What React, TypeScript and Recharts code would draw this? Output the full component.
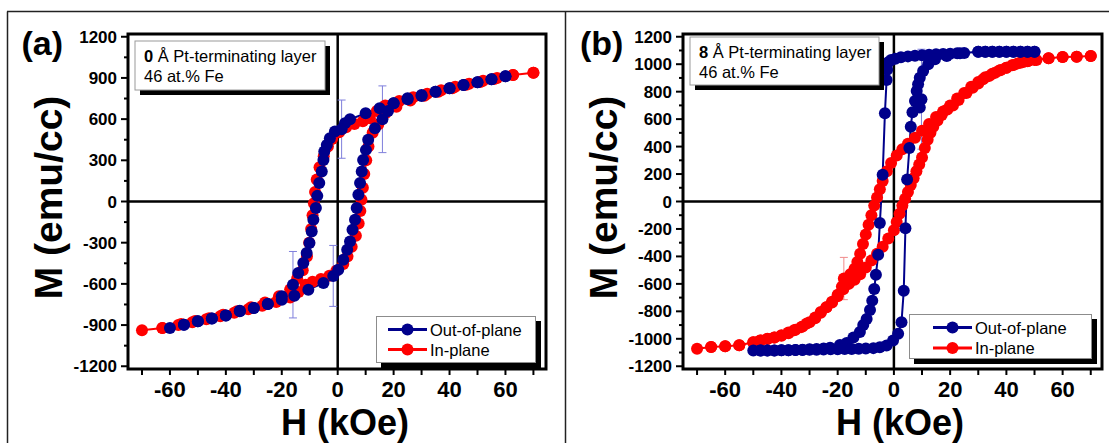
import React from 'react';
import { LineChart, Line, XAxis, YAxis, ReferenceLine, ReferenceArea, ErrorBar, Legend } from 'recharts';

type Pt = [number, number, number?];

// (a) 0 Å Pt-terminating layer, loop goes down from +H and back up; third value = error bar half-height
const outOfPlaneA: Pt[] = [
  [60, 913], [55, 890], [50, 868], [45, 849], [40, 825], [35, 800], [30, 769], [25, 745], [20, 716], [15, 679],
  [10, 643], [4.4, 599], [2.6, 570], [1.4, 527, 212], [-1, 509], [-2.8, 461], [-3.9, 412], [-4.8, 364], [-5.1, 303],
  [-5.7, 218], [-6.6, 134], [-7.3, 41], [-7.8, -48], [-8.7, -133], [-9.3, -218], [-10.1, -303], [-11.1, -375],
  [-12.3, -448], [-14.1, -521], [-16, -606, 242], [-20, -690], [-25, -746], [-30, -775], [-35, -795], [-40, -831],
  [-45, -853], [-50, -873], [-55, -897], [-60, -921],
  [-55, -897], [-50, -873], [-45, -853], [-40, -831], [-35, -800], [-30, -775], [-25, -746], [-20, -715],
  [-15.5, -686], [-10.5, -642], [-5.1, -594], [-1.6, -542, 222], [0.2, -497], [2, -424], [3.4, -351], [4.4, -291],
  [5.3, -206], [6.2, -133], [6.8, -48], [7.4, 49], [8, 134], [8.6, 218], [9.1, 303], [10.1, 376], [10.9, 449],
  [13.3, 534], [16, 599, 243], [18, 660], [20, 716], [25, 752], [30, 775], [35, 800], [40, 825], [45, 849],
  [50, 868], [55, 890], [60, 913],
];

const inPlaneA: Pt[] = [
  [70, 938], [62.7, 921], [57, 900], [52, 880], [47, 858], [42, 835], [37, 810], [32, 785], [27, 760], [22, 732],
  [17, 700], [14, 660], [11.5, 606], [9, 585], [6, 565], [3, 540], [0.5, 505], [-2, 455], [-3.5, 400], [-5, 330],
  [-6.5, 250], [-7.5, 160], [-8.1, 70], [-8.5, -12], [-9, -100], [-9.5, -200], [-10.2, -300], [-11, -400],
  [-12.5, -500], [-14.5, -560], [-17, -640], [-21, -690], [-26, -735], [-31, -770], [-36, -800], [-41, -825],
  [-46, -850], [-51, -870], [-56, -893], [-62.7, -921], [-70, -938],
  [-62.7, -921], [-57, -900], [-52, -880], [-47, -858], [-42, -835], [-37, -810], [-32, -785], [-27, -760],
  [-22, -732], [-17, -700], [-14, -660], [-11.5, -606], [-9, -585], [-6, -565], [-3, -540], [-0.5, -505], [2, -455],
  [3.5, -400], [5, -330], [6.5, -250], [7.5, -160], [8.1, -70], [8.5, 12], [9, 100], [9.5, 200], [10.2, 300],
  [11, 400], [12.5, 500], [14.5, 560], [17, 640], [21, 690], [26, 735], [31, 770], [36, 800], [41, 825], [46, 850],
  [51, 870], [56, 893], [62.7, 921], [70, 938],
];

// (b) 8 Å Pt-terminating layer
const outOfPlaneB: Pt[] = [
  [50, 1091], [47.5, 1091], [45, 1091], [42.5, 1091], [40, 1091], [37.5, 1091], [35, 1091], [32.5, 1091], [30, 1090],
  [25, 1082], [22.5, 1080], [20, 1077], [17.5, 1075], [15, 1072], [12.5, 1069], [10, 1066], [7.5, 1062], [5, 1057],
  [2.5, 1050], [0.5, 1040], [-1, 1030], [-2, 1015], [-2.4, 960], [-2.6, 885], [-3.2, 643], [-4, 194], [-5, -157],
  [-5.6, -388], [-6.4, -533], [-7, -637], [-7.7, -722], [-8.5, -790], [-9.7, -855], [-10.9, -900], [-12.1, -950],
  [-14.4, -990], [-16.8, -1030], [-19.2, -1045], [-22.7, -1065], [-25, -1070], [-27.5, -1074], [-30, -1077],
  [-32.5, -1079], [-35, -1081], [-37.5, -1083], [-40, -1084], [-42.5, -1085], [-45, -1086], [-47.5, -1086], [-50, -1086],
  [-47.5, -1086], [-45, -1085], [-42.5, -1085], [-40, -1084], [-37.5, -1083], [-35, -1082], [-32.5, -1081],
  [-30, -1080], [-27.5, -1079], [-25, -1078], [-22.5, -1077], [-20, -1076], [-17.5, -1075], [-15, -1074],
  [-12.5, -1073], [-10, -1071], [-7.3, -1068], [-5, -1062], [-2.6, -1049], [-0.3, -1013], [1.5, -964], [2.7, -880],
  [3.5, -650], [4.1, -195], [4.7, 160], [5.5, 390], [6, 545], [6.6, 650], [7.5, 732], [9.2, 684], [9.8, 745, 364],
  [8.1, 805], [8.6, 854], [9.2, 902], [10.4, 951], [12.2, 999], [14.6, 1036], [18.8, 1060], [23.5, 1079],
  [30, 1090], [32.5, 1091], [35, 1091], [37.5, 1091], [40, 1091], [42.5, 1091], [45, 1091], [47.5, 1091], [50, 1091],
];

const inPlaneB: Pt[] = [
  [70, 1060], [65, 1055], [60, 1052], [55, 1043], [50, 1030], [47.5, 1022], [45, 1010], [42.5, 995], [40, 975],
  [37.5, 955], [35, 930], [32.5, 905], [30, 870], [27.5, 835], [25, 790], [22.5, 750], [20, 700], [17.5, 655],
  [15, 615], [12.5, 565], [10, 515], [7.5, 465], [5, 420], [3, 380], [1, 335], [-1, 280], [-2.5, 220], [-4, 150],
  [-5, 90], [-6, 30], [-7, -30], [-8, -100], [-9, -170], [-10, -240], [-11, -310], [-12, -380], [-13, -440],
  [-14, -490], [-15.5, -530], [-17.8, -561, 154], [-18.5, -620], [-20, -680], [-22, -730], [-24, -770], [-26, -805],
  [-28, -845], [-30, -880], [-32.5, -910], [-35, -935], [-37.5, -955], [-40, -975], [-42.5, -990], [-45, -1000],
  [-47.5, -1012], [-50, -1025], [-55, -1047], [-60, -1054], [-65, -1059], [-70, -1073],
  [-65, -1059], [-60, -1054], [-55, -1047], [-50, -1025], [-47.5, -1013], [-45, -1001], [-42.5, -990], [-40, -977],
  [-37.5, -960], [-35.5, -938], [-33, -915], [-31, -889], [-28, -850], [-26, -810], [-24, -770], [-22, -735],
  [-20, -690], [-18, -640], [-16, -600], [-14, -570], [-12, -530], [-10, -480], [-8, -430], [-6, -380], [-4, -330],
  [-2, -270], [0, -210], [1, -150], [2, -90], [3, -30], [4, 20], [5, 70], [6, 120], [7, 170], [8, 220], [9, 270],
  [10, 320], [11, 390], [12, 450], [13, 500], [14, 545], [15.5, 590], [17, 630], [19, 670], [21, 700], [23, 740],
  [25.8, 790], [28, 829], [30, 860], [31.7, 890], [34, 915], [36, 938], [38, 958], [40, 975], [42, 992], [44, 1006],
  [46, 1016], [47.7, 1023], [50.7, 1031], [55, 1043], [60, 1052], [65, 1055], [70, 1060],
];

const hTicks = [-70, -60, -50, -40, -30, -20, -10, 0, 10, 20, 30, 40, 50, 60, 70];
const mTicksA = [-1200, -1050, -900, -750, -600, -450, -300, -150, 0, 150, 300, 450, 600, 750, 900, 1050, 1200];
const mTicksB = [-1200, -1100, -1000, -900, -800, -700, -600, -500, -400, -300, -200, -100, 0,
  100, 200, 300, 400, 500, 600, 700, 800, 900, 1000, 1100, 1200];

const seriesNames = ['Out-of-plane', 'In-plane'];
const BLUE = '#00008b';
const RED = '#ff0000';
const FONT = "'Liberation Sans', Arial, sans-serif";

const toRows = (pts: Pt[]) => pts.map(([h, m, err]) => ({ h, m, err }));

const renderXTick = (p: any) => {
  const { x, y, payload } = p;
  const major = payload.value % 20 === 0;
  return (
    <g>
      <line x1={x} x2={x} y1={y} y2={y + 6} stroke="#000" strokeWidth={2} />
      {major && (
        <text x={x} y={y + 28} textAnchor="middle" fontFamily={FONT} fontWeight="bold" fontSize={22} fill="#000">
          {payload.value}
        </text>
      )}
    </g>
  );
};

const makeYTick = (step: number) => (p: any) => {
  const { x, y, payload } = p;
  const major = payload.value % step === 0;
  return (
    <g>
      <line x1={x - (major ? 7 : 4)} x2={x} y1={y} y2={y} stroke="#000" strokeWidth={2} />
      {major && (
        <text x={x - 11} y={y + 6} textAnchor="end" fontFamily={FONT} fontWeight="bold" fontSize={17} fill="#000">
          {payload.value}
        </text>
      )}
    </g>
  );
};

const xTitle = () => (
  <text x={345} y={434.5} textAnchor="middle" fontFamily={FONT} fontWeight="bold" fontSize={36} fill="#000">
    H (kOe)
  </text>
);

const yTitle = () => (
  <text x={61.5} y={197.5} transform="rotate(-90 61.5 197.5)" textAnchor="middle" fontFamily={FONT}
    fontWeight="bold" fontSize={39} fill="#000">
    M (emu/cc)
  </text>
);

type LegendBox = { left: number; top: number; w: number; h: number; lx0: number; lx1: number; tx: number; rows: number[] };

const makeLegend = (b: LegendBox) => () => (
  <div style={{ position: 'relative', width: b.w, height: b.h, background: '#fff', border: '1px solid #8c8c8c',
    boxShadow: '5px 5px 0 #000', boxSizing: 'border-box' }}>
    <svg width={b.w} height={b.h} style={{ position: 'absolute', left: -1, top: -1 }}>
      {seriesNames.map((name, i) => {
        const c = i === 0 ? BLUE : RED;
        const y = b.rows[i];
        return (
          <g key={name}>
            <line x1={b.lx0} x2={b.lx1} y1={y} y2={y} stroke={c} strokeWidth={3} />
            <circle cx={(b.lx0 + b.lx1) / 2} cy={y} r={6} fill={c} />
            <text x={b.tx} y={y + 6} fontFamily={FONT} fontSize={16.5} fill="#000">{name}</text>
          </g>
        );
      })}
    </svg>
  </div>
);

type PanelProps = {
  left: number; width: number; rightMargin: number; xDomain: [number, number];
  yTicks: number[]; labelStep: number; blue: Pt[]; red: Pt[]; legend: LegendBox;
};

function Panel({ left, width, rightMargin, xDomain, yTicks, labelStep, blue, red, legend }: PanelProps) {
  return (
    <div style={{ position: 'absolute', left, top: 0 }}>
      <LineChart width={width} height={443} margin={{ top: 34, right: rightMargin, bottom: 0, left: 0 }}>
        <XAxis type="number" dataKey="h" domain={xDomain} ticks={hTicks} allowDataOverflow interval={0}
          axisLine={false} tickLine={false} tickSize={0} tickMargin={0} height={74} tick={renderXTick} label={xTitle} />
        <YAxis type="number" dataKey="m" domain={[-1220, 1220]} ticks={yTicks} allowDataOverflow interval={0}
          axisLine={false} tickLine={false} tickSize={0} tickMargin={0} width={128} tick={makeYTick(labelStep)}
          label={yTitle} />
        <ReferenceLine x={0} stroke="#000" strokeWidth={2.5} />
        <ReferenceLine y={0} stroke="#000" strokeWidth={2.5} />
        <Line data={toRows(red)} dataKey="m" name="In-plane" stroke={RED} strokeWidth={2}
          dot={{ r: 6, fill: RED, stroke: RED, strokeWidth: 0 }} activeDot={false} isAnimationActive={false}>
          <ErrorBar dataKey="err" width={4} stroke="#f08a8a" strokeWidth={1} direction="y" />
        </Line>
        <Line data={toRows(blue)} dataKey="m" name="Out-of-plane" stroke={BLUE} strokeWidth={2}
          dot={{ r: 6, fill: BLUE, stroke: BLUE, strokeWidth: 0 }} activeDot={false} isAnimationActive={false}>
          <ErrorBar dataKey="err" width={4} stroke="#7f7fdc" strokeWidth={1} direction="y" />
        </Line>
        <ReferenceArea x1={xDomain[0]} x2={xDomain[1]} y1={-1220} y2={1220} fill="none" stroke="#000"
          strokeWidth={3} ifOverflow="visible" />
        <Legend layout="vertical" align="center" verticalAlign="middle" content={makeLegend(legend)}
          wrapperStyle={{ left: legend.left, top: legend.top, width: legend.w, height: legend.h }} />
      </LineChart>
    </div>
  );
}

function NoteBox({ x, y, w, h, thick }: { x: number; y: number; w: number; h: number; thick: string }) {
  return (
    <g>
      <rect x={x + 5} y={y + 5} width={w} height={h} fill="#000" />
      <rect x={x} y={y} width={w} height={h} fill="#fff" stroke="#9a9a9a" strokeWidth={1} />
      <text x={x + 9} y={y + 21} fontFamily={FONT} fontSize={16.5} fill="#000">
        <tspan fontWeight="bold">{thick}</tspan> Å Pt-terminating layer
      </text>
      <text x={x + 9} y={y + 41} fontFamily={FONT} fontSize={16.5} fill="#000">46 at.% Fe</text>
    </g>
  );
}

export default function App() {
  return (
    <div style={{ position: 'absolute', left: 0, top: 0, width: 1109, height: 443, overflow: 'hidden', background: '#fff' }}>
      <Panel left={0} width={560} rightMargin={14} xDomain={[-75, 74.5]} yTicks={mTicksA} labelStep={300}
        blue={outOfPlaneA} red={inPlaneA}
        legend={{ left: 376, top: 316, w: 160, h: 47, lx0: 12, lx1: 51, tx: 54, rows: [13.5, 33.5] }} />
      <Panel left={555} width={554} rightMargin={7} xDomain={[-75, 74]} yTicks={mTicksB} labelStep={200}
        blue={outOfPlaneB} red={inPlaneB}
        legend={{ left: 354, top: 314, w: 183, h: 45, lx0: 24, lx1: 63, tx: 66, rows: [13.5, 34] }} />
      <svg width={1109} height={443} style={{ position: 'absolute', left: 0, top: 0, pointerEvents: 'none' }}>
        <line x1={7} x2={1109} y1={11.5} y2={11.5} stroke="#222" strokeWidth={1.5} />
        <line x1={7.5} x2={7.5} y1={11.5} y2={443} stroke="#222" strokeWidth={1.5} />
        <line x1={565.5} x2={565.5} y1={11.5} y2={443} stroke="#222" strokeWidth={1.5} />
        <text x={21.5} y={55} fontFamily={FONT} fontWeight="bold" fontSize={34} fill="#000">(a)</text>
        <text x={580} y={55} fontFamily={FONT} fontWeight="bold" fontSize={34} fill="#000">(b)</text>
        <NoteBox x={135} y={41} w={190} h={49} thick="0" />
        <NoteBox x={690} y={37} w={189} h={48} thick="8" />
      </svg>
    </div>
  );
}
